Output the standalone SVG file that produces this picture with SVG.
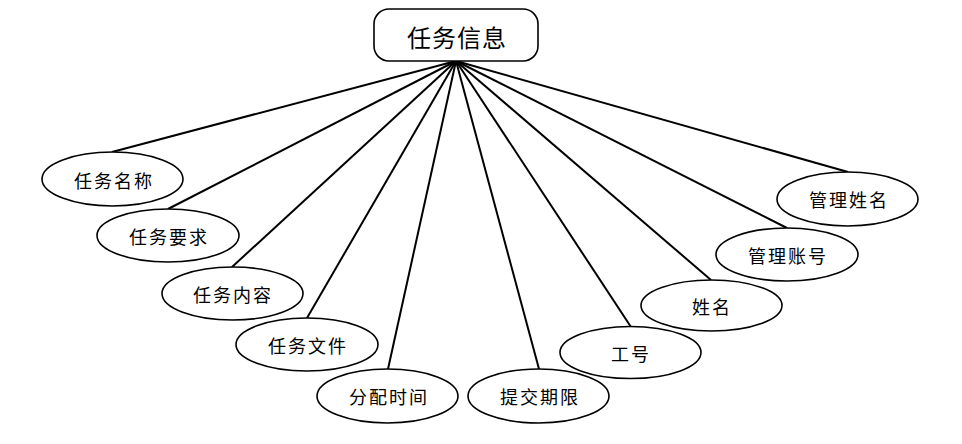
<svg xmlns="http://www.w3.org/2000/svg" width="962" height="444" viewBox="0 0 962 444">
<style>
.e{fill:#fff;stroke:#000;stroke-width:1.6}
.t{font-family:"Noto Sans CJK SC","Noto Sans",sans-serif;font-size:18px;fill:#000;text-anchor:middle;dominant-baseline:central;letter-spacing:2px}
.c line{stroke:#000;stroke-width:2}
</style>
<rect width="962" height="444" fill="#fff"/>
<g class="c" id="connectors">
<line x1="456" y1="61" x2="112" y2="152"/>
<line x1="456" y1="61" x2="168" y2="209"/>
<line x1="456" y1="61" x2="232" y2="267"/>
<line x1="456" y1="61" x2="307" y2="318"/>
<line x1="456" y1="61" x2="388" y2="369"/>
<line x1="456" y1="61" x2="539" y2="369"/>
<line x1="456" y1="61" x2="631" y2="327"/>
<line x1="456" y1="61" x2="711" y2="280"/>
<line x1="456" y1="61" x2="787" y2="228"/>
<line x1="456" y1="61" x2="848" y2="172"/>
</g>
<g id="task-info">
<rect x="374" y="9" width="164" height="52" rx="15" fill="#fff" stroke="#000" stroke-width="1.6"/>
<text x="457" y="36" class="t" style="font-size:24px;letter-spacing:1px">任务信息</text>
</g>
<g id="n1"><ellipse class="e" cx="112.5" cy="179" rx="70.5" ry="27"/><text class="t" x="114" y="180">任务名称</text></g>
<g id="n2"><ellipse class="e" cx="168" cy="235.5" rx="71" ry="26.5"/><text class="t" x="169" y="236">任务要求</text></g>
<g id="n3"><ellipse class="e" cx="232.5" cy="293.5" rx="70.5" ry="26.5"/><text class="t" x="233" y="294">任务内容</text></g>
<g id="n4"><ellipse class="e" cx="307" cy="344.5" rx="71" ry="26.5"/><text class="t" x="308" y="345">任务文件</text></g>
<g id="n5"><ellipse class="e" cx="387.5" cy="396" rx="70.5" ry="27"/><text class="t" x="389" y="396">分配时间</text></g>
<g id="n6"><ellipse class="e" cx="538.5" cy="396" rx="70.5" ry="27"/><text class="t" x="540" y="396">提交期限</text></g>
<g id="n7"><ellipse class="e" cx="630.5" cy="352.5" rx="70.5" ry="26"/><text class="t" x="631" y="353">工号</text></g>
<g id="n8"><ellipse class="e" cx="711.5" cy="305.5" rx="70.5" ry="25.5"/><text class="t" x="712" y="306">姓名</text></g>
<g id="n9"><ellipse class="e" cx="787" cy="254.5" rx="71" ry="26.5"/><text class="t" x="788" y="255">管理账号</text></g>
<g id="n10"><ellipse class="e" cx="847.5" cy="199" rx="70.5" ry="27"/><text class="t" x="849" y="199">管理姓名</text></g>
</svg>
